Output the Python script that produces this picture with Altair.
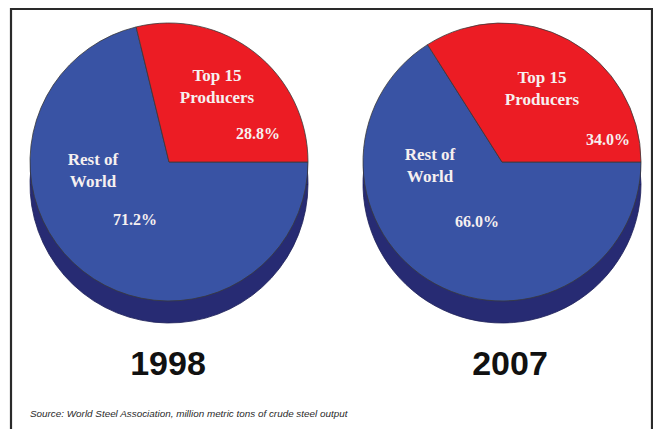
import math
import altair as alt
import pandas as pd

# ---- data ----
years = ["1998", "2007"]
groups = ["Rest of World", "Top 15 Producers"]
labels = ["Rest of\nWorld", "Top 15\nProducers"]
share_1998 = [71.2, 28.8]
share_2007 = [66.0, 34.0]
source_text = "Source: World Steel Association, million metric tons of crude steel output"

rows = []
for yr, shares in zip(years, [share_1998, share_2007]):
    for i, (g, lab, s) in enumerate(zip(groups, labels, shares)):
        rows.append({"year": yr, "group": g, "label": lab, "share": s, "order": i})
df = pd.DataFrame(rows)

# ---- styling / layout ----
W, H = 645, 421
M = 8  # page margin offset
R = 139
DEPTH = 22
RED = "#ec1c24"
BLUE = "#3953a4"
DARK = "#272b73"
TXT = "#f6f0f0"
centers = {"1998": (169 - M, 162 - M), "2007": (502 - M, 162 - M)}
# label positions (orig pixel coords) per year/group: (name_x, first_line_y, pct_x, pct_y)
label_pos = {
    ("1998", "Top 15 Producers"): (217, 76, 258, 134),
    ("1998", "Rest of World"): (93, 160, 135, 220),
    ("2007", "Top 15 Producers"): (542, 78, 608, 140),
    ("2007", "Rest of World"): (430, 155, 477, 222),
}
year_pos = {"1998": (168, 365), "2007": (510, 365)}

base = alt.Chart(df)

layers = []
# frame
layers.append(
    alt.Chart(pd.DataFrame({"k": [0]})).mark_rect(fill=None, stroke="#2a2a2a", strokeWidth=2.2)
    .encode(x=alt.value(3), x2=alt.value(644), y=alt.value(1), y2=alt.value(450))
)

for yr in years:
    cx, cy = centers[yr]
    pie = (
        base.transform_filter(f"datum.year == '{yr}'")
        .transform_stack(stack="share", groupby=["year"], as_=["s0", "s1"],
                         sort=[alt.SortField("order", order="ascending")])
        .transform_calculate(t0="PI/2 + 2*PI*datum.s0/100", t1="PI/2 + 2*PI*datum.s1/100")
    )
    # depth (side of the 3D disc)
    layers.append(
        pie.mark_arc(outerRadius=R, stroke="#1d2058", strokeWidth=0.8, fill=DARK)
        .encode(theta=alt.Theta("t0:Q", scale=None), theta2="t1:Q",
                x=alt.value(cx), y=alt.value(cy + DEPTH))
    )
    layers.append(
        pie.mark_rect(fill=DARK)
        .encode(x=alt.value(cx - R), x2=alt.value(cx + R),
                y=alt.value(cy), y2=alt.value(cy + DEPTH))
    )
    # top face
    layers.append(
        pie.mark_arc(outerRadius=R, stroke="#3a3a3a", strokeWidth=0.8)
        .encode(theta=alt.Theta("t0:Q", scale=None), theta2="t1:Q",
                color=alt.Color("group:N", scale=alt.Scale(domain=groups, range=[BLUE, RED]), legend=None),
                x=alt.value(cx), y=alt.value(cy))
    )
    # labels
    for g in groups:
        nx, ny, px, py = label_pos[(yr, g)]
        sub = base.transform_filter(f"datum.year == '{yr}' && datum.group == '{g}'")
        layers.append(
            sub.mark_text(font="Liberation Serif", fontWeight="bold", fontSize=17, color=TXT,
                          lineBreak="\n", lineHeight=22, align="center", baseline="middle")
            .encode(text="label:N", x=alt.value(nx - M), y=alt.value(ny - M))
        )
        layers.append(
            sub.transform_calculate(pct="format(datum.share, '.1f') + '%'")
            .mark_text(font="Liberation Serif", fontWeight="bold", fontSize=16, color=TXT,
                       align="center", baseline="middle")
            .encode(text="pct:N", x=alt.value(px - M), y=alt.value(py - M))
        )
    # year title
    yx, yy = year_pos[yr]
    layers.append(
        base.transform_filter(f"datum.year == '{yr}' && datum.order == 0")
        .mark_text(font="Liberation Sans", fontWeight="bold",
                   fontSize=34, color="#111111", align="center", baseline="middle")
        .encode(text="year:N", x=alt.value(yx - M), y=alt.value(yy - M))
    )

layers.append(
    alt.Chart(pd.DataFrame({"t": [source_text]}))
    .mark_text(font="Liberation Sans", fontStyle="italic", fontSize=9.9, color="#2a2a2a",
               align="left", baseline="middle")
    .encode(text="t:N", x=alt.value(30 - M), y=alt.value(414 - M))
)

chart = (
    alt.layer(*layers)
    .properties(width=W, height=H, padding=0, autosize="none")
    .configure_view(stroke=None)
)

chart.save("out.html", embed_options={"renderer": "svg", "actions": False})
